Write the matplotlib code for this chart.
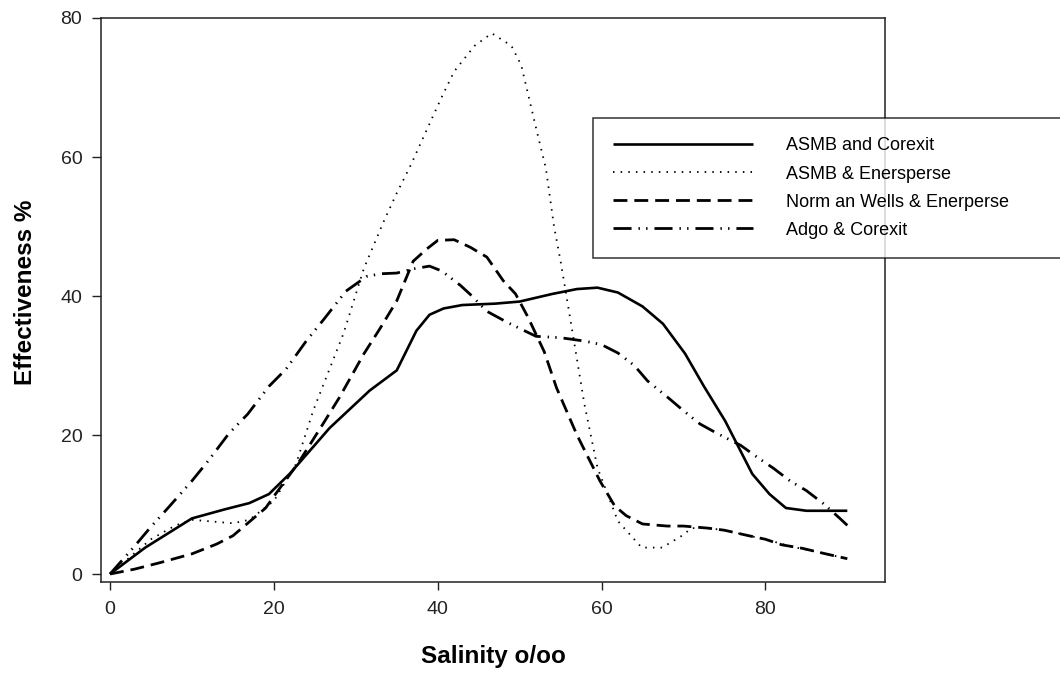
import matplotlib
matplotlib.use("Agg")
import matplotlib.pyplot as plt

plt.rcParams['font.family'] = ['Liberation Sans', 'DejaVu Sans']
plt.rcParams['lines.scale_dashes'] = False

# ASMB and Corexit (solid)
x_asmb_corexit = [0, 4.3, 10, 14, 17, 19.4, 22, 26.8, 31.7, 35, 37.4, 39, 40.7, 43, 47, 50,
                  54, 57, 59.5, 62, 65, 67.5, 70.2, 72.5, 75.1, 78.4, 80.5, 82.5, 85, 90]
y_asmb_corexit = [0, 3.8, 8, 9.3, 10.2, 11.5, 14.5, 21, 26.4, 29.3, 35, 37.3, 38.2, 38.7, 38.9, 39.2,
                  40.3, 41, 41.2, 40.5, 38.5, 36, 31.7, 27, 22, 14.4, 11.5, 9.5, 9.1, 9.1]

# ASMB & Enersperse (dotted)
x_asmb_ener = [0, 5, 8, 10, 12, 15, 17, 20, 22.7, 24.8, 28.5, 31, 33.4, 35, 36.7, 38.7, 40.4, 42,
               44.5, 46.6, 49, 50.2, 51.3, 52.1, 53.2, 54.2, 55, 56, 57.9, 59.5, 62, 64.9, 67.4,
               69.8, 71, 73, 75, 78, 80, 83, 85, 87, 90]
y_asmb_ener = [0, 5, 7, 7.8, 7.6, 7.3, 7.8, 10.5, 15.8, 23.5, 34.6, 44, 50.7, 54.8, 58.8, 64, 68.4, 72.3,
               76, 77.8, 76, 73.2, 67.7, 63.7, 58.4, 50, 45, 38, 24.5, 15.3, 7.6, 3.8, 3.8,
               5.5, 6.6, 6.6, 6.3, 5.5, 5, 4, 3.5, 3, 2.2]

# Norman Wells & Enerperse (dashed)
x_norman = [0, 3, 6, 10, 13, 15, 17.4, 19, 20.2, 23, 26, 28, 31, 33, 35, 37, 38.7, 40, 42, 44, 46,
            48, 49.5, 51, 53, 54.5, 57, 59.8, 61.6, 63, 65, 68, 70, 73, 75, 78, 80, 82, 84.5, 87, 90]
y_norman = [0, 0.7, 1.6, 2.9, 4.3, 5.5, 7.9, 9.5, 11.5, 16, 21.6, 25.4, 31.7, 35.4, 39.3, 45, 46.8, 48,
            48.1, 47, 45.6, 42.2, 40.3, 37, 32, 26.8, 20, 13.4, 9.8, 8.4, 7.2, 6.9, 6.9, 6.6, 6.3,
            5.5, 5, 4.2, 3.7, 3, 2.2]

# Adgo & Corexit (dash-dot-dot)
x_adgo = [0, 3, 5, 7, 10, 12, 14.5, 16.8, 19.4, 21.5, 24, 26, 28.8, 31.3, 33, 35, 37, 39, 40.5,
          42.8, 44, 46, 48.5, 52, 55, 58, 60, 62, 64, 65.6, 68, 70, 72, 74, 77, 79, 81, 83, 85,
          87, 89, 90]
y_adgo = [0, 4, 6.8, 9.4, 13.4, 16.3, 20.2, 23, 27, 29.5, 33.6, 36.5, 40.7, 42.8, 43.2, 43.3, 43.9,
          44.3, 43.6, 41.5, 40.2, 37.8, 36.2, 34.2, 34, 33.5, 33, 31.8, 30, 27.8, 25.5, 23.5, 21.6,
          20.3, 18.5, 16.8, 15.2, 13.4, 12, 10.2, 8.1, 7]

labels = ["ASMB and Corexit", "ASMB & Enersperse", "Norm an Wells & Enerperse", "Adgo & Corexit"]
x_ticks = [0, 20, 40, 60, 80]
y_ticks = [0, 20, 40, 60, 80]

fig = plt.figure(figsize=(10.6, 6.76), dpi=100)
ax = fig.add_axes([101/1060, 1 - 582/676, (885-101)/1060, (582-18)/676])

styles = [
    dict(linestyle='-', lw=1.9),
    dict(linestyle=(0, (1.1, 4.4)), lw=1.3),
    dict(linestyle=(0, (10, 5)), lw=2.0),
    dict(linestyle=(0, (13, 5, 1, 4.5, 1, 5)), lw=2.0),
]
series = [(x_asmb_corexit, y_asmb_corexit), (x_asmb_ener, y_asmb_ener),
          (x_norman, y_norman), (x_adgo, y_adgo)]
handles = []
for (xs, ys), st, lab in zip(series, styles, labels):
    ln, = ax.plot(xs, ys, color='black', label=lab, solid_capstyle='butt',
                  dash_capstyle='butt', **st)
    handles.append(ln)

ax.set_xlim(-1.1, 94.6)
ax.set_ylim(-1.15, 80)
ax.set_xticks(x_ticks)
ax.set_yticks(y_ticks)
ax.tick_params(direction='out', width=1.0, labelsize=14, colors='#222222',
               top=False, right=False)
ax.tick_params(axis='x', length=6, pad=8)
ax.tick_params(axis='y', length=6.5, pad=7)
for sp in ax.spines.values():
    sp.set_linewidth(1.1)
    sp.set_color('#222222')

ax.set_xlabel("Salinity o/oo", fontsize=17.5, fontweight='bold', labelpad=19)
ax.set_ylabel("Effectiveness %", fontsize=17.5, fontweight='bold', labelpad=17)
ax.yaxis.label.set_y(0.514)

leg = fig.legend(handles=handles, labels=labels, loc='upper left',
                 bbox_to_anchor=(593/1060, 1 - 118/676, (1070-593)/1060, 0.0),
                 mode='expand', frameon=True, fancybox=False, fontsize=13,
                 handlelength=7.8, handletextpad=1.8, labelspacing=0.61,
                 borderpad=1.08, borderaxespad=0.0)
leg.get_frame().set_edgecolor('black')
leg.get_frame().set_linewidth(1.1)

fig.savefig("out.png", dpi=100)
